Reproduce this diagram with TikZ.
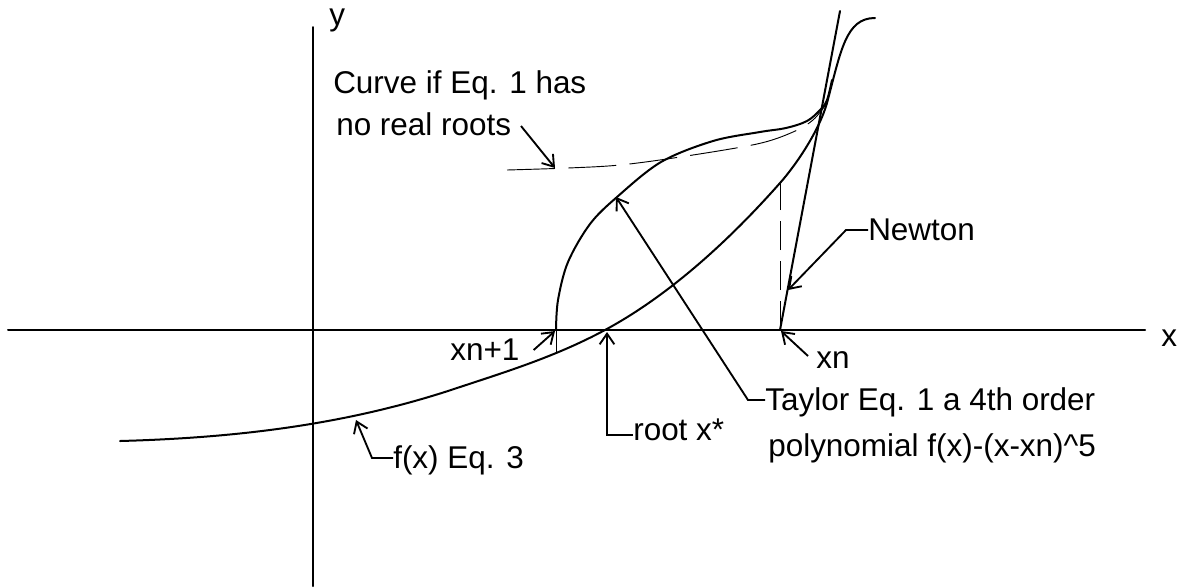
\documentclass[tikz,border=0pt]{standalone}
\usepackage{fontspec}
\setmainfont{Liberation Sans}
\usetikzlibrary{arrows.meta}
\tikzset{
  lbl/.style={anchor=base west, inner sep=0pt, font=\fontsize{23.6}{28}\selectfont},
  heavy/.style={line width=1.5pt, line cap=round, line join=round},
  lead/.style={line width=1.4pt, line join=miter},
  arr/.style={lead, -{Straight Barb[length=8pt,width=11pt,line width=1.4pt]}},
  fine/.style={line width=0.7pt},
  longdash/.style={line width=0.7pt, dash pattern=on 36pt off 10pt},
  vdash/.style={line width=0.7pt, dash pattern=on 22pt off 8pt}
}
\begin{document}
\begin{tikzpicture}[x=0.75pt,y=-0.75pt]
\useasboundingbox (0,0) rectangle (1180,587);
% axes
\coordinate (ytop) at (313,27);
\coordinate (ybot) at (313,586);
\coordinate (xl) at (8,330);
\coordinate (xr) at (1145,330);
\draw[heavy] (ytop) -- (ybot);
\draw[heavy] (xl) -- (xr);
\node[lbl] (ylab) at (329,25) {y};
\node[lbl] (xlab) at (1161,346) {x};
% key points
\coordinate (xn) at (780,330);
\coordinate (xn1) at (556,330);
\coordinate (root) at (605,330);
\coordinate (tan) at (827,103);
\coordinate (fxn) at (780,183);
\coordinate (fxn1) at (556,352);
\coordinate (fstart) at (120,441);
\coordinate (fa) at (451,390);
\coordinate (fend) at (875,18);
% f(x) curve
\draw[heavy] (fstart) .. controls (230,438) and (341,426) .. (fa)
  .. controls (502,373) and (554,357.5) .. (root)
  .. controls (663,298.7) and (722,248.5) .. (fxn)
  .. controls (796,165) and (819,131) .. (tan)
  .. controls (841,50) and (846,18) .. (fend);
% Taylor curve
\draw[heavy] plot[smooth, tension=0.55] coordinates {
 (556,330) (558,300) (568,262) (590,224) (617,197) (661,162) (713,141)
 (760,132) (786,128) (807,121) (820,110) (827,100) (832,80)};
% dashed curve (no real roots)
\draw[longdash] plot[smooth, tension=0.55] coordinates {
 (507,170) (568,168) (620,165) (680,157) (757,144) (793,132) (813,120) (827,103)};
% Newton tangent
\coordinate (ntop) at (840,11);
\draw[heavy] (xn) -- (ntop);
% verticals
\draw[fine] (xn1) -- (fxn1);
\draw[vdash] (xn) -- (fxn);
% labels
\node[lbl] (curve1) at (333,93) {Curve if Eq. 1 has};
\node[lbl] (curve2) at (336,135) {no real roots};
\node[lbl] (newton) at (868,240) {Newton};
\node[lbl] (xn1lab) at (450,360) {xn+1};
\node[lbl] (xnlab) at (816,368) {xn};
\node[lbl] (rootlab) at (633,440) {root x*};
\node[lbl] (flab) at (393,468) {f(x) Eq. 3};
\node[lbl] (tay1) at (765,410) {Taylor Eq. 1 a 4th order};
\node[lbl] (tay2) at (768,456) {polynomial f(x)-(x-xn)\^{}5};
% connectors
\coordinate (cTip) at (555,168);
\draw[arr] (521,126) -- (cTip);
\coordinate (nTip) at (788,290);
\coordinate (nBend) at (846,230);
\draw[arr] (newton.west |- 0,230) -- (nBend) -- (nTip);
\draw[arr] (xn1lab.east |- 0,350) ++(14,0) -- (555,331);
\draw[arr] (xnlab.west |- 0,356) ++(-8,0) -- (781,331);
\coordinate (rBend) at (607,435);
\draw[arr] (rootlab.west |- rBend) -- (rBend) -- (607,332);
\coordinate (fBend) at (372,458);
\draw[arr] (flab.west |- fBend) -- (fBend) -- (356,420);
\coordinate (tBend) at (748,400);
\draw[arr] (tay1.west |- tBend) -- (tBend) -- (616,197);
\end{tikzpicture}
\end{document}
